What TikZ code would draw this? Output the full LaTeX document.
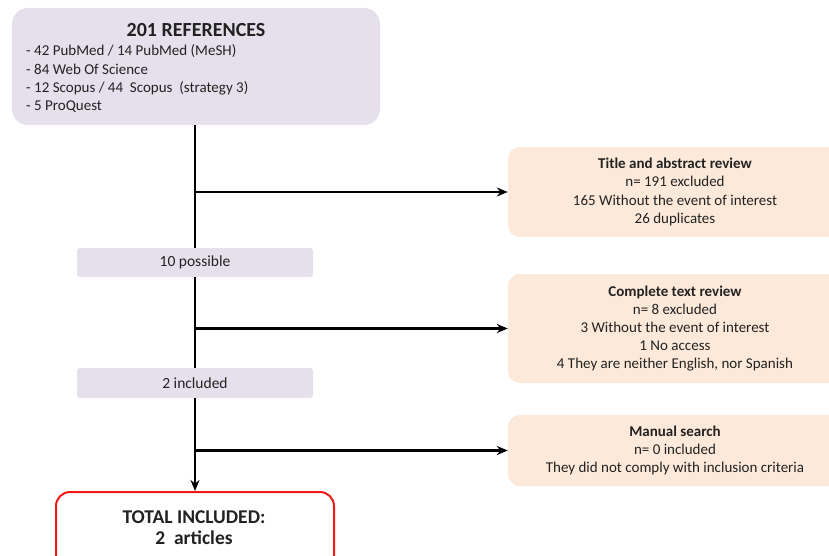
\documentclass[tikz,border=0pt]{standalone}
\usepackage{fontspec}
\setmainfont{Carlito}
\usetikzlibrary{arrows.meta}
\definecolor{lav}{HTML}{E5E0EC}
\definecolor{peach}{HTML}{FDE9D9}
\definecolor{txt}{HTML}{222222}
\definecolor{redline}{HTML}{F01818}
\begin{document}
\begin{tikzpicture}[x=1pt,y=-1pt,
  every node/.style={text=txt},
  lavbox/.style={fill=lav, draw=none, inner sep=0pt},
  peachbox/.style={fill=peach, draw=none, rounded corners=12pt, minimum width=334pt,
    align=center, font=\fontsize{15}{18.2}\selectfont, inner sep=0pt},
  totalbox/.style={draw=redline, line width=2pt, fill=white, rounded corners=14pt,
    minimum width=278pt, minimum height=84pt, inner sep=0pt},
  trunk/.style={line width=2.8pt, black},
  branch/.style={line width=2.2pt, black, -{Stealth[length=11pt,width=9pt]}},
]
\useasboundingbox (0,0) rectangle (829,556);
\clip (0,0) rectangle (829,556);

% top box
\node[lavbox, rounded corners=16pt, minimum width=368pt, minimum height=117pt] (refs) at (196,66.5) {};
\node[font=\fontsize{20}{22}\selectfont\bfseries, inner sep=0pt] (reftitle) at (196,30) {201 REFERENCES};
\node[anchor=north west, align=left, font=\fontsize{15}{18.4}\selectfont, inner sep=0pt] (reflist) at (26,44.5)
  {- 42 PubMed / 14 PubMed (MeSH)\\- 84 Web Of Science\\- 12 Scopus / 44~~Scopus~~(strategy 3)\\- 5 ProQuest};

% small boxes
\node[lavbox, rounded corners=3pt, minimum width=236pt, minimum height=29pt, font=\fontsize{15.5}{18}\selectfont] (possible) at (195,262.5) {10 possible};
\node[lavbox, rounded corners=3pt, minimum width=236pt, minimum height=30pt, font=\fontsize{15.5}{18}\selectfont] (included) at (195,383) {2 included};

% total box
\node[totalbox] (total) at (195,534) {};
\node[align=center, font=\fontsize{19.5}{21}\selectfont\bfseries, inner sep=0pt] (totaltext) at (194,528) {TOTAL INCLUDED:\\2~~articles};

% right boxes
\node[peachbox, minimum height=90pt] (tab) at (675,192)
  {\textbf{Title and abstract review}\\n= 191 excluded\\165 Without the event of interest\\26 duplicates};
\node[peachbox, minimum height=109pt] (ctr) at (675,328.5)
  {\textbf{Complete text review}\\n= 8 excluded\\3 Without the event of interest\\1 No access\\4 They are neither English, nor Spanish};
\node[peachbox, minimum height=71pt] (man) at (675,450.5)
  {\textbf{Manual search}\\n= 0 included\\They did not comply with inclusion criteria};

% trunk
\draw[trunk] (possible.north |- refs.south) -- (possible.north);
\draw[trunk] (possible.south) -- (included.north);
\draw[line width=2.4pt, -{Stealth[length=11pt,width=9pt]}] (included.south) -- (total.north);

% branches
\draw[branch] (possible.south |- tab.west) -- (tab.west);
\draw[branch] (possible.south |- ctr.west) -- (ctr.west);
\draw[branch] (possible.south |- man.west) -- (man.west);
\end{tikzpicture}
\end{document}
